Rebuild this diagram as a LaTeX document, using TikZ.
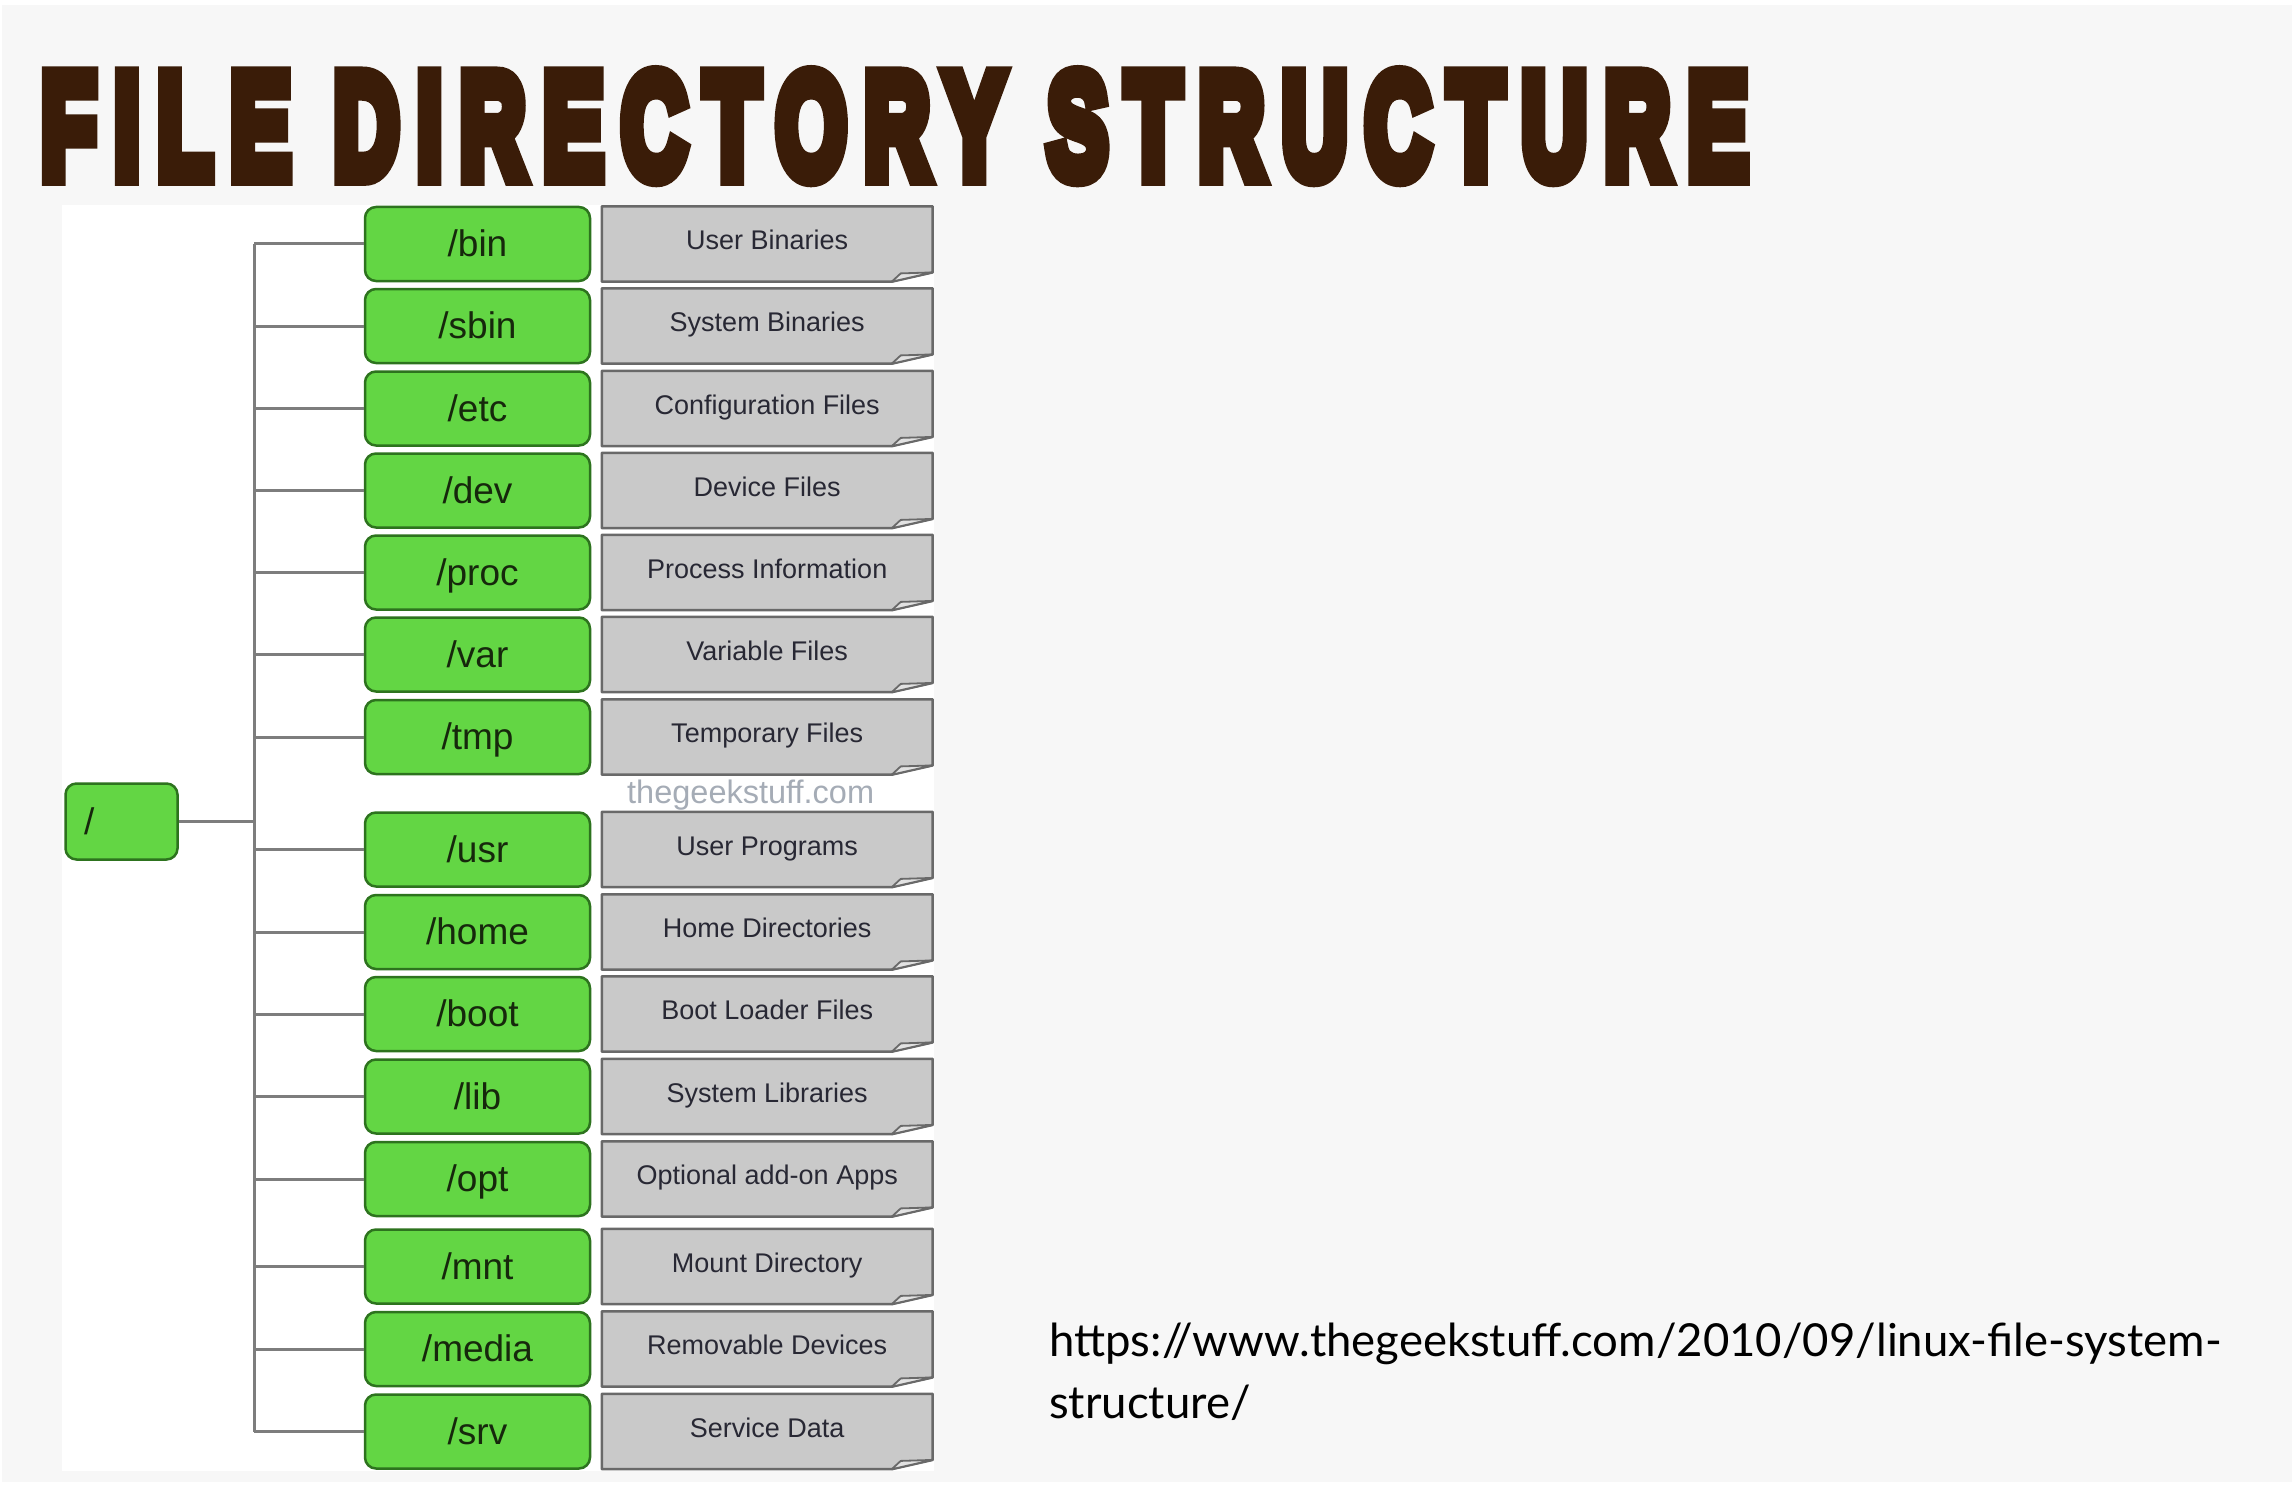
\documentclass[tikz,border=0pt]{standalone}
\usepackage{fontspec}
\setmainfont{Liberation Sans}
\newfontfamily\titlefont[FakeBold=12,LetterSpace=20]{Liberation Sans Bold}
\newfontfamily\urlfont{Lato}
\usetikzlibrary{backgrounds}
\definecolor{bggrey}{RGB}{247,247,247}
\definecolor{titlebrown}{RGB}{58,28,8}
\definecolor{dirgreen}{RGB}{99,214,68}
\definecolor{dirgreenline}{RGB}{45,115,30}
\definecolor{dirtext}{RGB}{22,40,12}
\definecolor{notefill}{RGB}{201,201,201}
\definecolor{noteflap}{RGB}{226,226,226}
\definecolor{noteline}{RGB}{105,105,105}
\definecolor{notetext}{RGB}{40,40,52}
\definecolor{conncol}{RGB}{125,125,125}
\definecolor{markcol}{RGB}{165,172,182}
\tikzset{
  dirbox/.style={draw=dirgreenline, line width=2.5pt, fill=dirgreen, rounded corners=11pt,
    minimum width=225pt, minimum height=74pt, inner sep=0pt, text=dirtext,
    font=\fontsize{37}{40}\selectfont, text height=27pt, text depth=1.6pt},
  notebox/.style={inner sep=0pt, minimum width=330.5pt, minimum height=75pt, text=notetext,
    font=\fontsize{27}{30}\selectfont, text height=19.5pt, text depth=8pt},
  noteshape/.style={fill=notefill, draw=noteline, line width=2.5pt, line join=round},
  flapshape/.style={fill=noteflap, draw=noteline, line width=1.8pt, line join=round},
  conn/.style={draw=conncol, line width=3pt}
}
\begin{document}
\begin{tikzpicture}[x=1pt,y=-1pt]
\useasboundingbox (0,0) rectangle (2292,1490);
% title
\node[anchor=south west, inner sep=0pt, text=titlebrown] (title) at (41,178.6)
  {\resizebox{1706pt}{103pt}{\titlefont FILE DIRECTORY STRUCTURE}};
% root
\node[dirbox, minimum width=112pt, text width=75pt, align=left, minimum height=76pt] (root) at (121.5,821.5) {/};
\coordinate (trunk) at (254,821.5);
% directories and descriptions
\foreach \n/\d/\y in {bin/User Binaries/244, sbin/System Binaries/326, etc/Configuration Files/408.5,
  dev/Device Files/490.5, proc/Process Information/572.5, var/Variable Files/654.5,
  tmp/Temporary Files/737, usr/User Programs/849.5, home/Home Directories/932,
  boot/Boot Loader Files/1014, lib/System Libraries/1096.5, opt/Optional add-on Apps/1179,
  mnt/Mount Directory/1266.5, media/Removable Devices/1349, srv/Service Data/1431.5}{
  \node[dirbox] (\n) at (477.5,\y) {/\n};
  \node[notebox] (d\n) at (767.25,\y) {\d};
  \draw[flapshape] ([yshift=9.3pt]d\n.south east) -- ([xshift=-32pt,yshift=8.3pt]d\n.south east)
    -- ([xshift=-41pt]d\n.south east) -- cycle;
}
% watermark
\node[anchor=base west, inner sep=0pt, text=markcol, font=\fontsize{32.5}{34}\selectfont] (mark) at (627,803) {thegeekstuff.com};
% connectors
\draw[conn] (root.east) -- (trunk);
\draw[conn] (trunk |- bin.west) -- (trunk |- srv.west);
\foreach \n in {bin,sbin,etc,dev,proc,var,tmp,usr,home,boot,lib,opt,mnt,media,srv}{
  \draw[conn] (trunk |- \n.west) -- (\n.west);
}
% url
\node[anchor=base west, inner sep=0pt, font=\urlfont\fontsize{45.5}{50}\selectfont] (url1) at (1049,1356)
  {https://www.thegeekstuff.com/2010/09/linux-file-system-};
\node[anchor=base west, inner sep=0pt, font=\urlfont\fontsize{45.5}{50}\selectfont] (url2) at (1049,1418)
  {structure/};
% backgrounds
\begin{scope}[on background layer]
  \fill[white] (0,0) rectangle (2292,1490);
  \fill[bggrey] (1.5,5) rectangle (2292,1482);
  \fill[white] (62,205) rectangle (934,1471);
  \foreach \n in {bin,sbin,etc,dev,proc,var,tmp,usr,home,boot,lib,opt,mnt,media,srv}{
    \path[noteshape] (d\n.north west) -- (d\n.north east) -- ([yshift=9.3pt]d\n.south east)
      -- ([xshift=-41pt]d\n.south east) -- (d\n.south west) -- cycle;
  }
\end{scope}
\end{tikzpicture}
\end{document}
